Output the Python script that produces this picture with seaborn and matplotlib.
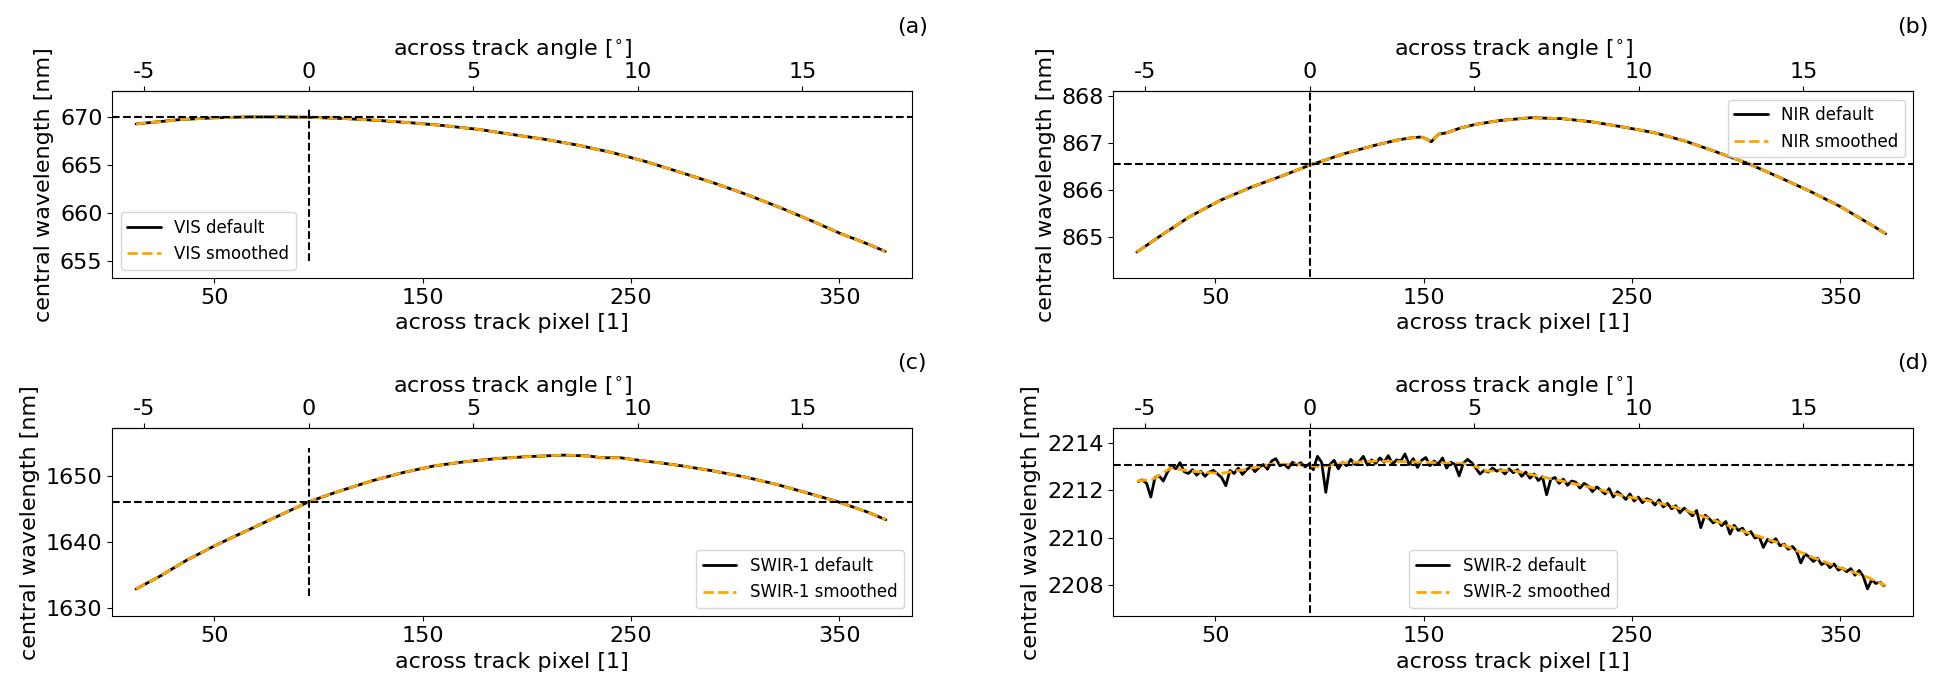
import matplotlib
matplotlib.use("Agg")
import matplotlib.pyplot as plt
import seaborn as sns
import numpy as np

sns.set_style("ticks")
plt.rcParams.update({
    "font.family": ["DejaVu Sans"],
    "axes.unicode_minus": False,
    "axes.edgecolor": "black",
    "axes.labelcolor": "black",
    "text.color": "black",
    "xtick.color": "black",
    "ytick.color": "black",
    "axes.linewidth": 0.8,
    "xtick.major.size": 3.5,
    "ytick.major.size": 3.5,
    "xtick.major.width": 0.8,
    "ytick.major.width": 0.8,
    "xtick.labelsize": 16,
    "ytick.labelsize": 16,
    "axes.labelsize": 16,
})

# ---------------- data ----------------
# (a) VIS
vis_px = [12.4, 33.5, 49.5, 65.6, 81.5, 95.3, 113.6, 129.5, 145.0, 160.0, 177.6, 193.5,
          209.6, 225.6, 241.6, 257.6, 273.6, 289.6, 305.6, 321.6, 337.6, 350.4, 361.6, 372.0]
vis_wl = [669.27, 669.72, 669.90, 670.00, 670.00, 669.96, 669.82, 669.62, 669.38, 669.10,
          668.68, 668.16, 667.64, 667.02, 666.26, 665.33, 664.25, 663.15, 661.93, 660.58,
          659.12, 657.90, 656.97, 656.04]

# (b) NIR
nir_px = [12.3, 22.8, 37.6, 52.5, 67.4, 82.3, 95.1, 112.1, 127.0, 137.6, 143.5, 148.3,
          151.0, 153.6, 157.1, 161.1, 167.5, 175.0, 186.5, 201.4, 216.3, 231.2, 246.0,
          260.9, 275.8, 290.7, 305.6, 320.5, 335.4, 350.2, 365.1, 371.7]
nir_wl = [864.69, 865.01, 865.44, 865.79, 866.07, 866.31, 866.53, 866.78, 866.96, 867.07,
          867.11, 867.13, 867.10, 867.03, 867.19, 867.22, 867.32, 867.40, 867.48, 867.54,
          867.52, 867.45, 867.34, 867.22, 867.04, 866.81, 866.57, 866.28, 865.98, 865.65,
          865.26, 865.08]

# (c) SWIR-1
swir1_px = [12.4, 24.3, 36.2, 51.1, 66.0, 80.9, 95.2, 107.7, 125.6, 140.5, 155.4, 170.3,
            185.2, 200.1, 218.0, 229.9, 235.8, 244.8, 256.7, 265.6, 274.6, 289.5, 304.4,
            319.3, 334.2, 349.1, 364.0, 372.3]
swir1_wl = [1632.88, 1634.90, 1637.17, 1639.60, 1641.80, 1644.00, 1646.10, 1647.50,
            1649.30, 1650.55, 1651.56, 1652.20, 1652.67, 1652.97, 1653.20, 1653.07,
            1652.80, 1652.80, 1652.30, 1651.96, 1651.56, 1650.80, 1649.90, 1648.80,
            1647.50, 1646.15, 1644.50, 1643.40]

# (d) SWIR-2 default (every 2nd across-track pixel starting at 13)
swir2_def = [
    2212.38, 2212.45, 2212.30, 2211.72, 2212.55, 2212.62, 2212.40, 2212.78, 2213.05, 2212.92,
    2213.18, 2212.80, 2212.72, 2212.88, 2212.65, 2212.82, 2212.60, 2212.78, 2212.85, 2212.70,
    2212.55, 2212.20, 2212.85, 2212.72, 2212.95, 2212.68, 2212.88, 2213.02, 2212.80, 2212.98,
    2213.10, 2212.90, 2213.25, 2213.35, 2213.05, 2213.12, 2212.95, 2213.20, 2213.08, 2213.18,
    2213.00, 2213.12, 2212.88, 2213.45, 2213.20, 2211.92, 2213.10, 2213.28, 2212.92, 2213.18,
    2213.05, 2213.32, 2213.10, 2213.22, 2213.45, 2213.08, 2213.30, 2213.15, 2213.38, 2213.20,
    2213.48, 2213.12, 2213.30, 2213.25, 2213.55, 2213.10, 2213.35, 2212.98, 2213.28, 2213.40,
    2213.05, 2213.25, 2213.12, 2213.38, 2212.95, 2213.20, 2213.10, 2212.62, 2213.15, 2213.32,
    2213.18, 2212.95, 2212.70, 2212.85, 2212.78, 2212.95, 2212.82, 2212.88, 2212.70, 2212.92,
    2212.75, 2212.88, 2212.60, 2212.78, 2212.52, 2212.70, 2212.42, 2212.58, 2211.82, 2212.48,
    2212.55, 2212.30, 2212.48, 2212.22, 2212.40, 2212.35, 2212.10, 2212.30, 2212.18, 2211.95,
    2212.15, 2212.02, 2211.85, 2212.08, 2211.72, 2211.95, 2211.80, 2211.62, 2211.85, 2211.55,
    2211.72, 2211.48, 2211.65, 2211.58, 2211.38, 2211.60, 2211.30, 2211.45, 2211.22, 2211.35,
    2211.05, 2211.25, 2211.10, 2210.92, 2211.15, 2210.42, 2210.95, 2210.80, 2210.62, 2210.75,
    2210.50, 2210.68, 2210.15, 2210.52, 2210.30, 2210.40, 2210.12, 2210.25, 2209.98, 2210.05,
    2209.58, 2209.92, 2209.80, 2209.95, 2209.65, 2209.72, 2209.50, 2209.62, 2209.42, 2208.92,
    2209.30, 2209.18, 2208.98, 2209.12, 2208.85, 2208.95, 2208.72, 2208.88, 2208.62, 2208.70,
    2208.55, 2208.68, 2208.40, 2208.60, 2208.35, 2207.82, 2208.20, 2208.05, 2208.10, 2207.95,
]
swir2_def_px = np.arange(13, 13 + 2 * len(swir2_def), 2)

swir2_sm_px = [12.3, 19.8, 28.7, 37.6, 52.5, 64.4, 76.3, 88.3, 100.2, 112.1, 127.0, 141.8,
               159.7, 171.6, 180.5, 192.5, 201.4, 216.3, 231.2, 246.0, 260.9, 275.8, 290.7,
               305.6, 320.5, 335.4, 350.2, 362.1, 371.7]
swir2_sm = [2212.40, 2212.47, 2212.96, 2212.82, 2212.72, 2212.89, 2213.11, 2213.11, 2213.00,
            2213.17, 2213.25, 2213.22, 2213.17, 2213.13, 2212.82, 2212.86, 2212.68, 2212.40,
            2212.11, 2211.76, 2211.52, 2211.16, 2210.69, 2210.20, 2209.77, 2209.20, 2208.71,
            2208.35, 2207.96]

# reference levels (nadir wavelength) and extents of the nadir marker
band_names = ["VIS", "NIR", "SWIR-1", "SWIR-2"]
panel_tags = ["(a)", "(b)", "(c)", "(d)"]
nadir_wl = [669.96, 866.55, 1646.15, 2213.06]
vline_lo = [655.04, 863.69, 1631.9, 2206.79]
vline_hi = [670.85, 868.54, 1654.3, 2214.56]
y_limits = [(653.27, 672.66), (864.14, 868.10), (1628.73, 1657.27), (2206.65, 2214.64)]
y_ticks = [[655, 660, 665, 670], [865, 866, 867, 868], [1630, 1640, 1650],
           [2208, 2210, 2212, 2214]]
legend_locs = ["lower left", "upper right", "lower right", "lower center"]
pixel_ticks = [50, 150, 250, 350]
angle_ticks = [-5, 0, 5, 10, 15]

# pixel <-> angle mapping
P0 = 95.2     # across-track pixel at nadir
PPD = 15.8    # pixels per degree


def px2ang(p):
    return (np.asarray(p, dtype=float) - P0) / PPD


def ang2px(a):
    return np.asarray(a, dtype=float) * PPD + P0


series_def = [(vis_px, vis_wl), (nir_px, nir_wl), (swir1_px, swir1_wl),
              (swir2_def_px, swir2_def)]
series_sm = [(vis_px, vis_wl), (nir_px, nir_wl), (swir1_px, swir1_wl),
             (swir2_sm_px, swir2_sm)]

# ---------------- figure ----------------
W, H = 1944, 693
fig = plt.figure(figsize=(W / 100, H / 100), dpi=100)

lefts = [112.3, 1113.3]
aw = 800.0
rows = [(91.3, 278.0), (428.3, 616.4)]

for i in range(4):
    r, c = divmod(i, 2)
    top, bot = rows[r]
    ax = fig.add_axes([lefts[c] / W, 1 - bot / H, aw / W, (bot - top) / H])
    xd, yd = series_def[i]
    xs, ys = series_sm[i]
    sns.lineplot(x=xd, y=yd, ax=ax, color="black", lw=2, estimator=None,
                 label=f"{band_names[i]} default")
    sns.lineplot(x=xs, y=ys, ax=ax, color="orange", lw=2, linestyle="--",
                 estimator=None, label=f"{band_names[i]} smoothed")
    ax.axhline(nadir_wl[i], color="black", ls="--", lw=1.5)
    ax.vlines(P0, vline_lo[i], vline_hi[i], colors="black", linestyles="--", lw=1.5)
    ax.set_xlim(1.0, 385.0)
    ax.set_ylim(*y_limits[i])
    ax.set_xticks(pixel_ticks)
    ax.set_yticks(y_ticks[i])
    ax.set_xlabel("across track pixel [1]")
    ax.set_ylabel("central wavelength [nm]")
    sec = ax.secondary_xaxis("top", functions=(px2ang, ang2px))
    sec.set_xticks(angle_ticks)
    sec.set_xlabel(r"across track angle [$^{\circ}$]", fontsize=16)
    sec.tick_params(labelsize=16)
    ax.legend(loc=legend_locs[i], fontsize=12)
    ax.text(1.0, 1.345, panel_tags[i], transform=ax.transAxes, ha="center",
            va="center", fontsize=16)

fig.savefig("out.png", dpi=100)
